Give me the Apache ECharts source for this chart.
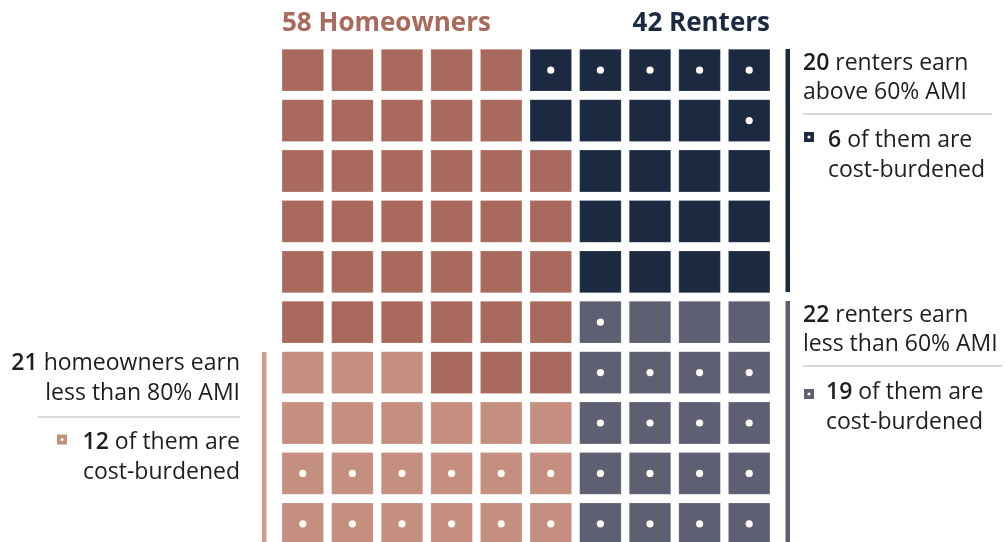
<!DOCTYPE html>
<html>
<head>
<meta charset="utf-8">
<title>Homeowners and renters</title>
<script src="https://cdn.jsdelivr.net/npm/echarts@6/dist/echarts.min.js"></script>
<style>
	html, body { margin: 0; padding: 0; background: #fff; }
	#chart { width: 1005px; height: 542px; }
</style>
</head>
<body>
<div id="chart"></div>
<script>
	// grid categories
	const columns = ['1', '2', '3', '4', '5', '6', '7', '8', '9', '10'];
	const rows = ['1', '2', '3', '4', '5', '6', '7', '8', '9', '10'];

	// H = homeowner, L = homeowner < 80% AMI, N = renter > 60% AMI, G = renter < 60% AMI
	const cellGroups = [
		'HHHHHNNNNN',
		'HHHHHNNNNN',
		'HHHHHHNNNN',
		'HHHHHHNNNN',
		'HHHHHHNNNN',
		'HHHHHHGGGG',
		'LLLHHHGGGG',
		'LLLLLLGGGG',
		'LLLLLLGGGG',
		'LLLLLLGGGG'
	];
	// x = cost-burdened
	const burdened = [
		'.....xxxxx',
		'.........x',
		'..........',
		'..........',
		'..........',
		'......x...',
		'......xxxx',
		'......xxxx',
		'xxxxxxxxxx',
		'xxxxxxxxxx'
	];

	const groupKeys = ['H', 'L', 'N', 'G'];
	const groupNames = ['Homeowners', 'Homeowners below 80% AMI', 'Renters above 60% AMI', 'Renters below 60% AMI'];
	const groupColors = ['#a96a5d', '#c48f7e', '#1b2a40', '#5f5f73'];

	const headOwners = '58 Homeowners';
	const headRenters = '42 Renters';
	const noteRentersHigh = ['20', ' renters earn', 'above 60% AMI', '6', ' of them are', 'cost-burdened'];
	const noteRentersLow = ['22', ' renters earn', 'less than 60% AMI', '19', ' of them are', 'cost-burdened'];
	const noteOwnersLow = ['21', ' homeowners earn', 'less than 80% AMI', '12', ' of them are', 'cost-burdened'];

	const FONT = '"Open Sans", "Noto Sans", sans-serif';
	const textColor = '#1f1d1e';
	const fs = 23;
	const lh = 29.5;
	const dy = 8.5; // baseline -> block centre

	const chart = echarts.init(document.getElementById('chart'));

	function renderCell(params, api) {
		const c = api.coord([api.value(0), api.value(1)]);
		const band = api.size([1, 1]);
		const w = band[0] * 0.837;
		const h = band[1] * 0.83;
		const children = [{
			type: 'rect',
			shape: { x: c[0] - w / 2, y: c[1] - h / 2, width: w, height: h },
			style: { fill: api.visual('color'), stroke: 'rgba(255,255,255,0.2)', lineWidth: 1 }
		}];
		if (api.value(2)) {
			children.push({
				type: 'circle',
				shape: { cx: c[0], cy: c[1], r: 3.6 },
				style: { fill: '#fffdf6' }
			});
		}
		return { type: 'group', children: children };
	}

	const series = groupKeys.map((key, gi) => {
		const data = [];
		cellGroups.forEach((line, r) => {
			for (let c = 0; c < line.length; c++) {
				if (line[c] === key) data.push([c, r, burdened[r][c] === 'x' ? 1 : 0]);
			}
		});
		return {
			name: groupNames[gi],
			type: 'custom',
			renderItem: renderCell,
			itemStyle: { color: groupColors[gi] },
			encode: { x: 0, y: 1 },
			data: data
		};
	});

	function richStyles(size) {
		return {
			b: { fontFamily: FONT, fontSize: size, fontWeight: 600, fill: textColor, lineHeight: lh },
			n: { fontFamily: FONT, fontSize: size, fontWeight: 'normal', fill: textColor, lineHeight: lh }
		};
	}

	function note(x, baseline, parts, align) {
		return {
			type: 'text',
			x: x,
			y: baseline + dy,
			style: {
				text: '{b|' + parts[0] + '}{n|' + parts[1] + '}\n{n|' + parts[2] + '}',
				rich: richStyles(fs),
				fontFamily: FONT,
				fontSize: fs,
				lineHeight: lh,
				fill: textColor,
				textAlign: align,
				textVerticalAlign: 'middle'
			}
		};
	}

	function legendIcon(x, y, color) {
		return {
			type: 'group',
			x: x,
			y: y,
			children: [
				{ type: 'rect', shape: { x: 0, y: 0, width: 10, height: 10 }, style: { fill: color } },
				{ type: 'circle', shape: { cx: 5, cy: 5, r: 1.6 }, style: { fill: '#fffdf6' } }
			]
		};
	}

	function sep(x1, x2, y) {
		return {
			type: 'line',
			shape: { x1: x1, y1: y, x2: x2, y2: y },
			style: { stroke: '#b4b4b4', lineWidth: 1.2 }
		};
	}

	function bar(x, y1, y2, color) {
		return {
			type: 'rect',
			shape: { x: x, y: y1, width: 4.5, height: y2 - y1 },
			style: { fill: color }
		};
	}

	const option = {
		animation: false,
		grid: { left: 278, top: 45, width: 496, height: 504, outerBoundsMode: 'none' },
		xAxis: { type: 'category', data: columns, show: false },
		yAxis: { type: 'category', data: rows, inverse: true, show: false },
		series: series,
		graphic: [
			{
				type: 'text', x: 282, y: 24,
				style: { text: headOwners, fontFamily: FONT, fontSize: 26, fontWeight: 'bold', fill: groupColors[0], textAlign: 'left', textVerticalAlign: 'middle' }
			},
			{
				type: 'text', x: 770, y: 24,
				style: { text: headRenters, fontFamily: FONT, fontSize: 26, fontWeight: 'bold', fill: groupColors[2], textAlign: 'right', textVerticalAlign: 'middle' }
			},
			bar(785.5, 49, 292, groupColors[2]),
			bar(785.5, 301, 542, groupColors[3]),
			bar(262, 352, 542, '#d09d8f'),

			// renters above 60%
			note(803, 69.3, noteRentersHigh.slice(0, 3), 'left'),
			sep(803, 992, 114),
			legendIcon(804, 132, groupColors[2]),
			note(828, 147, noteRentersHigh.slice(3, 6), 'left'),

			// renters below 60%
			note(803, 321.7, noteRentersLow.slice(0, 3), 'left'),
			sep(803, 1002, 366),
			legendIcon(804, 389, groupColors[3]),
			note(826, 399, noteRentersLow.slice(3, 6), 'left'),

			// homeowners below 80%
			note(240, 370, noteOwnersLow.slice(0, 3), 'right'),
			sep(38, 240, 417),
			legendIcon(57, 434.5, groupColors[1]),
			note(240, 449, noteOwnersLow.slice(3, 6), 'right')
		]
	};

	chart.setOption(option);
</script>
</body>
</html>
